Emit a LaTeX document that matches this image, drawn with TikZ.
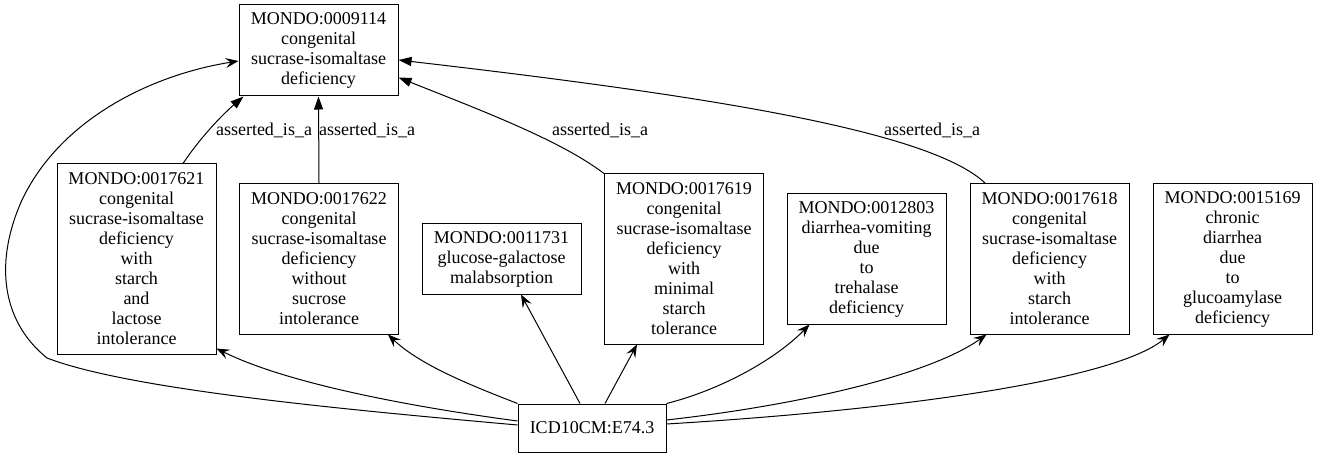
\documentclass[tikz,border=0pt]{standalone}
\usepackage{fontspec}
\setmainfont{Liberation Serif}
\usetikzlibrary{arrows.meta}

\tikzset{
  term/.style={draw,line width=1pt,align=center,minimum width=159pt,inner sep=2pt,
    font=\fontsize{18}{20}\selectfont},
  isa/.style={line width=1pt,-{Triangle[length=13pt,width=9pt]}},
  xref/.style={line width=1pt,-{Stealth[length=13pt,width=10pt,inset=5pt]}},
  edgelabel/.style={inner sep=1pt,font=\fontsize{18}{20}\selectfont}
}

\begin{document}
\begin{tikzpicture}[x=1pt,y=-1pt]
\useasboundingbox (0,0) rectangle (1317,457);

\node[term,minimum height=91pt] (n9114) at (318.5,50.5)
  {MONDO:0009114\\congenital\\sucrase-isomaltase\\deficiency};
\node[term,minimum height=190pt] (n17621) at (136.5,259)
  {MONDO:0017621\\congenital\\sucrase-isomaltase\\deficiency\\with\\starch\\and\\lactose\\intolerance};
\node[term,minimum height=150pt] (n17622) at (319,259)
  {MONDO:0017622\\congenital\\sucrase-isomaltase\\deficiency\\without\\sucrose\\intolerance};
\node[term,minimum height=70pt] (n11731) at (501.5,259)
  {MONDO:0011731\\glucose-galactose\\malabsorption};
\node[term,minimum height=170pt] (n17619) at (684,259)
  {MONDO:0017619\\congenital\\sucrase-isomaltase\\deficiency\\with\\minimal\\starch\\tolerance};
\node[term,minimum height=130pt] (n12803) at (866.5,259)
  {MONDO:0012803\\diarrhea-vomiting\\due\\to\\trehalase\\deficiency};
\node[term,minimum height=150pt] (n17618) at (1049.5,259)
  {MONDO:0017618\\congenital\\sucrase-isomaltase\\deficiency\\with\\starch\\intolerance};
\node[term,minimum height=150pt] (n15169) at (1232.5,259)
  {MONDO:0015169\\chronic\\diarrhea\\due\\to\\glucoamylase\\deficiency};
\node[term,minimum width=148pt,minimum height=48pt] (icd) at (592,428) {ICD10CM:E74.3};

% asserted_is_a edges
\draw[isa] ([xshift=46.5pt]n17621.north) .. controls (200,138) and (222,115) .. ([xshift=5pt]n9114.south west);
\draw[isa] (n17622.north) -- (n9114.south);
\draw[isa] (n17619.north west) .. controls (560,140) and (480,110) .. ([yshift=19pt]n9114.south east);
\draw[isa] ([xshift=16pt]n17618.north west) .. controls (930,130) and (700,95) .. ([yshift=-9.5pt]n9114.east);

\node[edgelabel] (lab1) at (264,130) {asserted\_is\_a};
\node[edgelabel] (lab2) at (367,130) {asserted\_is\_a};
\node[edgelabel] (lab3) at (600,130) {asserted\_is\_a};
\node[edgelabel] (lab4) at (932,130) {asserted\_is\_a};

% xref edges
\draw[xref] ([yshift=3pt]icd.west) .. controls (350,410) and (130,390) .. (47,358)
  .. controls (0,320) and (-5,260) .. (22,200)
  .. controls (60,120) and (150,75) .. ([yshift=-10.5pt]n9114.west);
\draw[xref] ([yshift=7pt]icd.west) .. controls (420,408) and (290,385) .. ([yshift=6pt]n17621.south east);
\draw[xref] (icd.north west) .. controls (470,385) and (420,365) .. ([xshift=-11pt]n17622.south east);
\draw[xref] ([xshift=-12pt]icd.north) -- ([xshift=19.5pt]n11731.south);
\draw[xref] ([xshift=13pt]icd.north) -- ([xshift=-47pt]n17619.south);
\draw[xref] (icd.north east) .. controls (720,390) and (775,360) .. ([xshift=23pt]n12803.south west);
\draw[xref] ([yshift=8pt]icd.east) .. controls (800,405) and (930,375) .. ([xshift=17pt]n17618.south west);
\draw[xref] ([yshift=4pt]icd.east) .. controls (900,410) and (1115,380) .. ([xshift=17pt]n15169.south west);

\end{tikzpicture}
\end{document}
